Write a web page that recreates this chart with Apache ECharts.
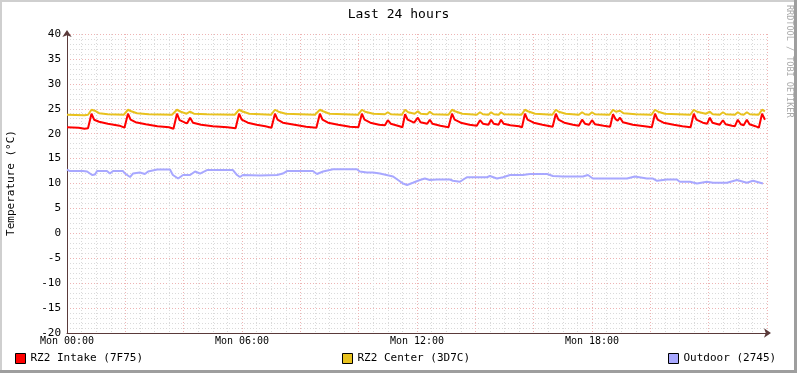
<!DOCTYPE html>
<html><head><meta charset="utf-8">
<script src="https://cdn.jsdelivr.net/npm/echarts@6/dist/echarts.min.js"></script>
<style>html,body{margin:0;padding:0;background:#fff}#c{width:797px;height:373px}</style>
</head><body><div id="c"></div>
<script>
var titleText = 'Last 24 hours';
var yAxisTitle = 'Temperature (°C)';
var watermark = 'RRDTOOL / TOBI OETIKER';
var seriesNames = ['RZ2 Intake (7F75)', 'RZ2 Center (3D7C)', 'Outdoor (2745)'];
var xTickHours = [0, 6, 12, 18];
var xTickLabels = ['Mon 00:00', 'Mon 06:00', 'Mon 12:00', 'Mon 18:00'];

// [hour, °C]
var intake = [[0,21.3],[0.4,21.2],[0.6,21.0],[0.72,21.1],[0.84,24.0],[0.93,22.8],[1.1,22.4],[1.4,22.0],[1.8,21.6],[1.97,21.2],
[2.09,24.0],[2.18,22.8],[2.35,22.3],[2.7,21.9],[3.1,21.5],[3.5,21.3],[3.65,21.0],
[3.77,24.0],[3.86,22.7],[4.05,22.2],[4.12,22.1],[4.22,23.2],[4.32,22.2],[4.6,21.8],[5.0,21.5],[5.5,21.3],[5.78,21.1],
[5.90,24.0],[5.99,22.8],[6.2,22.2],[6.5,21.8],[6.8,21.5],[7.01,21.2],
[7.13,24.0],[7.22,22.8],[7.4,22.2],[7.8,21.8],[8.2,21.4],[8.55,21.2],
[8.67,24.0],[8.76,22.8],[8.95,22.2],[9.3,21.8],[9.7,21.4],[9.99,21.3],
[10.11,24.0],[10.2,22.8],[10.4,22.2],[10.7,21.8],[10.9,21.7],[11.0,22.7],[11.1,22.0],[11.4,21.5],[11.5,21.3],
[11.59,23.9],[11.68,22.8],[11.9,22.2],[11.95,22.1],[12.03,23.2],[12.12,22.3],[12.35,22.0],[12.44,22.8],[12.53,22.0],[12.8,21.6],[13.08,21.3],
[13.2,24.0],[13.29,22.8],[13.5,22.2],[13.8,21.8],[14.05,21.6],[14.16,22.7],[14.26,22.0],[14.45,21.8],[14.54,22.8],[14.63,22.0],[14.8,21.8],[14.88,22.8],[14.97,22.0],[15.2,21.7],[15.5,21.5],[15.6,21.3],
[15.7,24.0],[15.79,22.8],[16.0,22.2],[16.3,21.8],[16.65,21.4],
[16.76,24.0],[16.85,22.8],[17.05,22.2],[17.35,21.8],[17.55,21.6],[17.66,22.8],[17.76,22.0],[17.9,21.8],[18.0,22.7],[18.1,21.9],[18.4,21.6],[18.62,21.4],
[18.72,23.9],[18.81,22.9],[18.88,22.6],[18.96,23.2],[19.06,22.3],[19.4,21.8],[19.8,21.5],[20.05,21.3],
[20.16,24.0],[20.25,22.8],[20.45,22.2],[20.8,21.8],[21.1,21.5],[21.38,21.3],
[21.49,24.0],[21.58,22.8],[21.8,22.2],[21.95,22.0],[22.04,23.2],[22.13,22.2],[22.38,21.8],[22.49,22.7],[22.58,21.9],[22.8,21.6],[22.9,21.5],[23.0,22.8],[23.1,21.9],[23.2,21.7],[23.31,22.8],[23.4,21.9],[23.6,21.5],[23.72,21.2],
[23.83,24.0],[23.93,22.8]];

var center = [[0,23.8],[0.6,23.7],[0.72,23.8],[0.84,24.8],[0.95,24.6],[1.1,24.1],[1.4,23.9],[1.95,23.8],
[2.09,24.8],[2.2,24.5],[2.4,24.1],[2.8,23.9],[3.6,23.8],
[3.77,24.8],[3.9,24.4],[4.1,24.0],[4.22,24.4],[4.35,24.0],[4.8,23.9],[5.75,23.8],
[5.9,24.8],[6.0,24.5],[6.25,24.0],[7.0,23.8],
[7.13,24.8],[7.25,24.4],[7.5,24.0],[8.5,23.8],
[8.67,24.8],[8.78,24.5],[9.0,24.0],[9.98,23.8],
[10.11,24.8],[10.22,24.4],[10.5,24.0],[10.9,23.9],[11.0,24.3],[11.1,23.9],[11.48,23.8],
[11.59,24.8],[11.7,24.3],[11.92,24.0],[12.03,24.5],[12.13,24.0],[12.35,23.9],[12.44,24.4],[12.55,23.9],[13.08,23.8],
[13.2,24.8],[13.3,24.5],[13.55,24.0],[14.05,23.8],[14.16,24.3],[14.26,23.9],[14.45,23.8],[14.54,24.3],[14.64,23.9],[14.8,23.8],[14.88,24.3],[14.98,23.9],[15.58,23.8],
[15.7,24.8],[15.8,24.5],[16.05,24.0],[16.64,23.8],
[16.76,24.8],[16.86,24.4],[17.1,24.0],[17.55,23.8],[17.66,24.3],[17.76,23.9],[17.9,23.8],[18.0,24.3],[18.1,23.9],[18.6,23.8],
[18.72,24.8],[18.82,24.4],[18.88,24.2],[18.96,24.6],[19.08,24.1],[19.5,23.9],[20.04,23.8],
[20.16,24.8],[20.27,24.4],[20.5,24.0],[21.37,23.8],
[21.49,24.8],[21.6,24.4],[21.9,24.0],[22.04,24.4],[22.14,23.9],[22.38,23.8],[22.49,24.3],[22.59,23.9],[22.9,23.8],[23.0,24.3],[23.1,23.9],[23.2,23.8],[23.31,24.3],[23.41,23.9],[23.71,23.8],
[23.83,24.8],[23.93,24.5]];

var outdoor = [[0,12.8],[0.1,12.5],[0.55,12.5],[0.69,12.4],[0.86,11.7],[0.96,11.8],[1.03,12.5],[1.37,12.5],[1.47,12.0],[1.58,12.5],[1.92,12.5],[1.99,12.0],[2.16,11.3],[2.26,12.0],[2.5,12.2],[2.67,11.9],[2.78,12.4],[3.09,12.8],[3.53,12.8],[3.63,11.7],[3.81,11.0],[3.98,11.7],[4.22,11.7],[4.39,12.4],[4.56,12.0],[4.8,12.7],[5.69,12.7],[5.83,11.7],[5.93,11.3],[6.03,11.7],[6.62,11.6],[7.2,11.7],[7.23,11.3],[7.4,12.0],[7.54,12.5],[8.43,12.5],[8.57,11.9],[8.78,12.4],[9.12,12.85],[9.94,12.85],[10.04,12.4],[10.28,12.2],[10.49,12.2],[10.73,12.0],[11.18,11.4],[11.52,10.0],[11.66,9.7],[11.86,10.15],[12.1,10.7],[12.27,11.0],[12.44,10.7],[12.68,10.8],[13.13,10.8],[13.23,10.55],[13.47,10.35],[13.71,11.25],[14.4,11.25],[14.5,11.5],[14.74,11.0],[14.95,11.25],[15.19,11.7],[15.63,11.7],[15.87,11.9],[16.46,11.9],[16.66,11.5],[17.0,11.4],[17.69,11.4],[17.86,11.7],[18.03,11.0],[18.51,11.0],[18.72,11.0],[19.2,11.0],[19.47,11.4],[19.88,11.0],[20.09,11.0],[20.23,10.55],[20.57,10.8],[20.91,10.8],[21.01,10.35],[21.36,10.35],[21.6,10.0],[21.94,10.35],[22.15,10.15],[22.63,10.15],[22.97,10.7],[23.31,10.15],[23.52,10.55],[23.86,10.0]];

var colors = ['#FF0000', '#E8C21E', '#A8A8FF'];
var FONT = 'DejaVu Sans Mono';

var chart = echarts.init(document.getElementById('c'), null, {renderer: 'canvas'});
function legendAt(name, left) {
  return {data: [name], left: left, top: 353, padding: 0, icon: 'rect', itemWidth: 10, itemHeight: 10,
    itemStyle: {borderColor: '#000', borderWidth: 1},
    textStyle: {fontFamily: FONT, fontSize: 11, color: '#000'}, selectedMode: false};
}
chart.setOption({
  animation: false,
  backgroundColor: '#fff',
  title: {text: titleText, left: 'center', top: 3,
    textStyle: {fontFamily: FONT, fontSize: 13, fontWeight: 'normal', color: '#000'}},
  legend: [legendAt(seriesNames[0], 15), legendAt(seriesNames[1], 342), legendAt(seriesNames[2], 668)],
  grid: {left: 67, top: 34, right: 30, bottom: 40, containLabel: false},
  xAxis: {type: 'value', min: 0, max: 24, interval: 2,
    axisLine: {onZero: false, symbol: ['none', 'arrow'], symbolSize: [7, 7], symbolOffset: [0, 4],
      lineStyle: {color: '#5a3a3a', width: 1}},
    axisTick: {show: false},
    axisLabel: {margin: 3, fontFamily: FONT, fontSize: 10, color: '#000', showMaxLabel: false,
      formatter: function (v) { var i = xTickHours.indexOf(v); return i >= 0 ? xTickLabels[i] : ''; }},
    splitLine: {show: true, lineStyle: {type: [1, 2], color: '#EEB4B4', width: 1}},
    minorTick: {show: false, splitNumber: 4},
    minorSplitLine: {show: true, lineStyle: {type: [1, 2], color: '#DADADA', width: 1}}
  },
  yAxis: {type: 'value', min: -20, max: 40, interval: 5,
    axisLine: {show: true, symbol: ['none', 'arrow'], symbolSize: [7, 7], symbolOffset: [0, 4],
      lineStyle: {color: '#5a3a3a', width: 1}},
    axisTick: {show: false},
    axisLabel: {margin: 6, fontFamily: FONT, fontSize: 11, color: '#000'},
    splitLine: {show: true, lineStyle: {type: [1, 2], color: '#EEB4B4', width: 1}},
    minorTick: {show: false, splitNumber: 5},
    minorSplitLine: {show: true, lineStyle: {type: [1, 2], color: '#DADADA', width: 1}}
  },
  graphic: [
    {type: 'text', x: 11, y: 183, rotation: Math.PI / 2,
      style: {text: yAxisTitle, fontFamily: FONT, fontSize: 11, fill: '#000', align: 'center', verticalAlign: 'middle'}},
    {type: 'text', x: 789, y: 5, rotation: -Math.PI / 2,
      style: {text: watermark, fontFamily: FONT, fontSize: 8.5, fill: '#AAAAAA', align: 'left', verticalAlign: 'middle'}},
    {type: 'rect', shape: {x: 0, y: 0, width: 797, height: 2}, style: {fill: '#CFCFCF'}},
    {type: 'rect', shape: {x: 0, y: 0, width: 2, height: 373}, style: {fill: '#CFCFCF'}},
    {type: 'rect', shape: {x: 0, y: 370, width: 797, height: 3}, style: {fill: '#9E9E9E'}},
    {type: 'rect', shape: {x: 794, y: 0, width: 3, height: 373}, style: {fill: '#9E9E9E'}}
  ],
  series: [
    {name: seriesNames[0], type: 'line', data: intake, showSymbol: false, color: colors[0], z: 4,
      lineStyle: {width: 2, color: colors[0]}},
    {name: seriesNames[1], type: 'line', data: center, showSymbol: false, color: colors[1], z: 3,
      lineStyle: {width: 2, color: colors[1]}},
    {name: seriesNames[2], type: 'line', data: outdoor, showSymbol: false, color: colors[2], z: 2,
      lineStyle: {width: 2, color: colors[2]}}
  ]
});
</script></body></html>
